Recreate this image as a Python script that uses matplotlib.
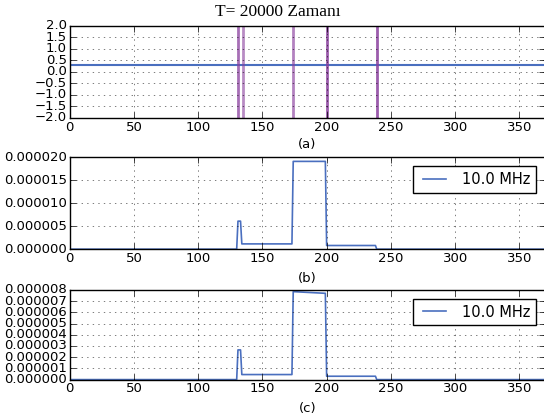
import numpy as np
import matplotlib
matplotlib.use("Agg")
import matplotlib.pyplot as plt

plt.style.use("classic")

# panel (a): reference level and event positions
ref_level = 0.28
event_x = [131, 135, 174, 200, 239]
event_alpha = [0.75, 0.6, 0.65, 0.85, 0.85]

# panel (b) and (c) step profiles
step_x = [0, 130, 131, 133, 134, 173, 174, 199, 200, 238, 239, 370]
step_b = [0, 0, 6.1e-6, 6.1e-6, 1.15e-6, 1.15e-6, 1.91e-5, 1.91e-5, 8.0e-7, 8.0e-7, 0, 0]
step_c = [0, 0, 2.65e-6, 2.65e-6, 4.5e-7, 4.5e-7, 7.85e-6, 7.7e-6, 3.0e-7, 3.0e-7, 0, 0]

blue = "#4a6fbf"
purple = "#8a3f9e"

fig = plt.figure(figsize=(5.44, 4.16), dpi=100, facecolor="white")

ax1 = fig.add_axes([0.128, 0.717, 0.874, 0.221])
ax2 = fig.add_axes([0.128, 0.401, 0.874, 0.221])
ax3 = fig.add_axes([0.128, 0.0875, 0.874, 0.2155])

ax1.axhline(ref_level, color=blue, lw=1.5)
for xv, a in zip(event_x, event_alpha):
    ax1.axvline(xv, color=purple, lw=2, alpha=a)
ax1.set_ylim(-2, 2)
ax1.set_yticks(np.arange(-2, 2.01, 0.5))
fig.suptitle("T= 20000 Zamanı", family="Liberation Serif", fontsize=12.5,
             x=0.511, y=0.99, va="top")
ax1.set_xlabel("(a)", fontsize=9.5, labelpad=3)

ax2.plot(step_x, step_b, color=blue, lw=1.2, label="10.0 MHz")
ax2.set_ylim(0, 2e-5)
ax2.set_yticks(np.arange(0, 2.01e-5, 5e-6))
ax2.set_yticklabels(["%.6f" % v for v in np.arange(0, 2.01e-5, 5e-6)])
ax2.set_xlabel("(b)", fontsize=9.5, labelpad=5)

ax3.plot(step_x, step_c, color=blue, lw=1.2, label="10.0 MHz")
ax3.set_ylim(0, 8e-6)
ax3.set_yticks(np.arange(0, 8.01e-6, 1e-6))
ax3.set_yticklabels(["%.6f" % v for v in np.arange(0, 8.01e-6, 1e-6)])
ax3.set_xlabel("(c)", fontsize=9.5, labelpad=5)

for ax in (ax1, ax2, ax3):
    ax.set_xlim(0, 370)
    ax.set_xticks(np.arange(0, 351, 50))
    ax.grid(True, color="black", linestyle=":", lw=0.6, alpha=0.6)
    ax.tick_params(labelsize=9.5, pad=2)
    ax.set_facecolor("white")

for ax in (ax2, ax3):
    leg = ax.legend(loc="upper right", fontsize=10.5, handlelength=2.2,
                    borderaxespad=0.6, fancybox=False)
    leg.get_frame().set_linewidth(1.0)

fig.savefig("out.png", dpi=100, facecolor="white")
